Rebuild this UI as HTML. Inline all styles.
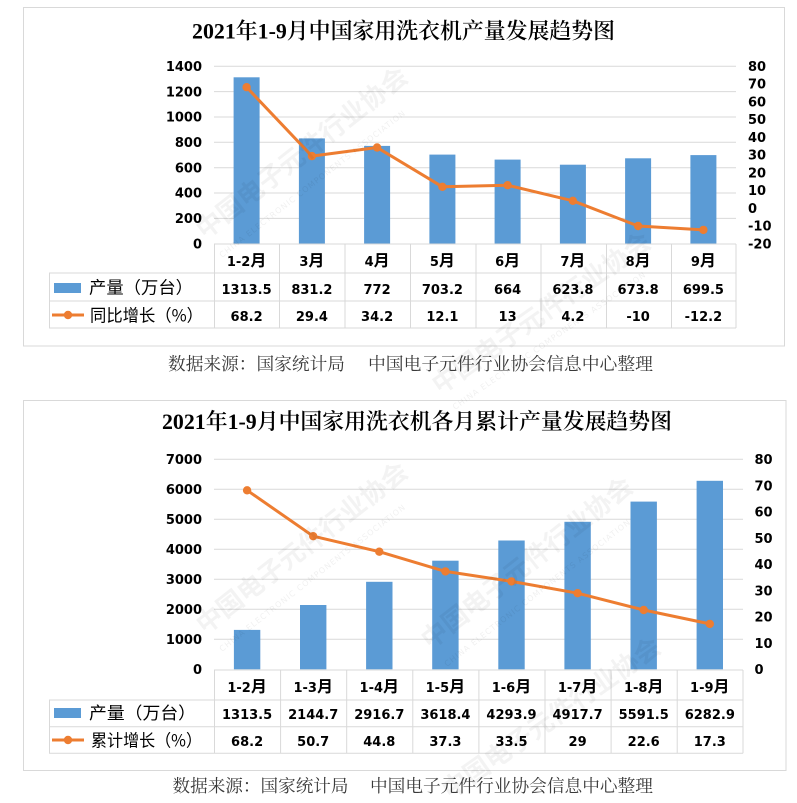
<!DOCTYPE html>
<html><head><meta charset="utf-8"><style>
html,body{margin:0;padding:0;background:#fff;}
svg{display:block;}
.n{font-family:"DejaVu Sans","Liberation Sans",sans-serif;font-weight:bold;font-size:13px;fill:#000;}
.m{font-family:"Noto Sans CJK SC","WenQuanYi Zen Hei",sans-serif;font-weight:bold;font-size:16px;}
.lg{font-family:"Noto Sans CJK SC","WenQuanYi Zen Hei",sans-serif;font-size:17px;fill:#000;}
.tt{font-family:"Liberation Serif","Noto Serif CJK SC",serif;font-size:22px;font-weight:600;fill:#000;}
.src{font-family:"Liberation Serif","Noto Serif CJK SC",serif;font-size:17.5px;fill:#3a3a3a;}
.wm{font-family:"Noto Sans CJK SC",sans-serif;font-weight:bold;font-size:26px;fill:#000;opacity:0.045;}
.wms{font-family:"DejaVu Sans",sans-serif;font-size:8px;fill:#000;opacity:0.06;letter-spacing:1px;}
</style></head><body>
<svg width="797" height="803" viewBox="0 0 797 803" xmlns="http://www.w3.org/2000/svg">
<rect width="797" height="803" fill="#fff"/>

<!-- ============ TOP CHART ============ -->
<rect x="23.5" y="7.5" width="761" height="338.5" fill="#fff" stroke="#d9d9d9" stroke-width="1"/>
<text class="tt" x="192" y="38.5" textLength="423" lengthAdjust="spacingAndGlyphs">2021年1-9月中国家用洗衣机产量发展趋势图</text>

<g stroke="#d9d9d9" stroke-width="1">
<line x1="214" y1="66.3" x2="736" y2="66.3"/>
<line x1="214" y1="91.6" x2="736" y2="91.6"/>
<line x1="214" y1="117.0" x2="736" y2="117.0"/>
<line x1="214" y1="142.3" x2="736" y2="142.3"/>
<line x1="214" y1="167.7" x2="736" y2="167.7"/>
<line x1="214" y1="193.0" x2="736" y2="193.0"/>
<line x1="214" y1="218.4" x2="736" y2="218.4"/>
</g>

<g class="n" text-anchor="end">
<text x="202" y="71">1400</text>
<text x="202" y="96.3">1200</text>
<text x="202" y="121.7">1000</text>
<text x="202" y="147">800</text>
<text x="202" y="172.4">600</text>
<text x="202" y="197.7">400</text>
<text x="202" y="223.1">200</text>
<text x="202" y="248.4">0</text>
</g>
<g class="n">
<text x="748" y="71">80</text>
<text x="748" y="88.7">70</text>
<text x="748" y="106.5">60</text>
<text x="748" y="124.2">50</text>
<text x="748" y="142">40</text>
<text x="748" y="159.7">30</text>
<text x="748" y="177.4">20</text>
<text x="748" y="195.2">10</text>
<text x="748" y="212.9">0</text>
<text x="748" y="230.7">-10</text>
<text x="748" y="248.4">-20</text>
</g>

<g fill="#5b9bd5">
<rect x="233.6" y="77.3" width="26" height="166.4"/>
<rect x="298.9" y="138.4" width="26" height="105.3"/>
<rect x="364.1" y="145.9" width="26" height="97.8"/>
<rect x="429.4" y="154.6" width="26" height="89.1"/>
<rect x="494.6" y="159.6" width="26" height="84.1"/>
<rect x="559.9" y="164.7" width="26" height="79.0"/>
<rect x="625.1" y="158.3" width="26" height="85.4"/>
<rect x="690.4" y="155.1" width="26" height="88.6"/>
</g>

<polyline fill="none" stroke="#ed7d31" stroke-width="3" stroke-linejoin="round" points="246.6,87.2 311.9,156.1 377.1,147.5 442.4,186.8 507.6,185.2 572.9,200.8 638.1,226.0 703.4,229.9"/>
<g fill="#ed7d31">
<circle cx="246.6" cy="87.2" r="4.2"/>
<circle cx="311.9" cy="156.1" r="4.2"/>
<circle cx="377.1" cy="147.5" r="4.2"/>
<circle cx="442.4" cy="186.8" r="4.2"/>
<circle cx="507.6" cy="185.2" r="4.2"/>
<circle cx="572.9" cy="200.8" r="4.2"/>
<circle cx="638.1" cy="226.0" r="4.2"/>
<circle cx="703.4" cy="229.9" r="4.2"/>
</g>

<g stroke="#d9d9d9" stroke-width="1" fill="none">
<line x1="214" y1="244" x2="736" y2="244"/>
<line x1="49" y1="273" x2="736" y2="273"/>
<line x1="49" y1="301" x2="736" y2="301"/>
<line x1="49" y1="328" x2="736" y2="328"/>
<line x1="49.5" y1="273" x2="49.5" y2="328"/>
<line x1="214.5" y1="244" x2="214.5" y2="328"/>
<line x1="279.5" y1="244" x2="279.5" y2="328"/>
<line x1="345" y1="244" x2="345" y2="328"/>
<line x1="410.5" y1="244" x2="410.5" y2="328"/>
<line x1="476" y1="244" x2="476" y2="328"/>
<line x1="541" y1="244" x2="541" y2="328"/>
<line x1="606.5" y1="244" x2="606.5" y2="328"/>
<line x1="671.5" y1="244" x2="671.5" y2="328"/>
<line x1="736" y1="244" x2="736" y2="328"/>
</g>
<g class="n" text-anchor="middle">
<text x="246.6" y="266">1-2<tspan class="m">月</tspan></text>
<text x="311.9" y="266">3<tspan class="m">月</tspan></text>
<text x="377.1" y="266">4<tspan class="m">月</tspan></text>
<text x="442.4" y="266">5<tspan class="m">月</tspan></text>
<text x="507.6" y="266">6<tspan class="m">月</tspan></text>
<text x="572.9" y="266">7<tspan class="m">月</tspan></text>
<text x="638.1" y="266">8<tspan class="m">月</tspan></text>
<text x="703.4" y="266">9<tspan class="m">月</tspan></text>

<text x="246.6" y="294">1313.5</text>
<text x="311.9" y="294">831.2</text>
<text x="377.1" y="294">772</text>
<text x="442.4" y="294">703.2</text>
<text x="507.6" y="294">664</text>
<text x="572.9" y="294">623.8</text>
<text x="638.1" y="294">673.8</text>
<text x="703.4" y="294">699.5</text>

<text x="246.6" y="321">68.2</text>
<text x="311.9" y="321">29.4</text>
<text x="377.1" y="321">34.2</text>
<text x="442.4" y="321">12.1</text>
<text x="507.6" y="321">13</text>
<text x="572.9" y="321">4.2</text>
<text x="638.1" y="321">-10</text>
<text x="703.4" y="321">-12.2</text>
</g>
<rect x="54" y="283" width="27" height="10" fill="#5b9bd5"/>
<text class="lg" x="89" y="293.5" textLength="104" lengthAdjust="spacingAndGlyphs">产量（万台）</text>
<line x1="52" y1="315" x2="84" y2="315" stroke="#ed7d31" stroke-width="3"/>
<circle cx="68" cy="315" r="4.2" fill="#ed7d31"/>
<text class="lg" x="90" y="321.5" textLength="113" lengthAdjust="spacingAndGlyphs">同比增长（%）</text>

<text class="src" x="168" y="370" textLength="177" lengthAdjust="spacingAndGlyphs">数据来源：国家统计局</text>
<text class="src" x="368" y="370" textLength="285" lengthAdjust="spacingAndGlyphs">中国电子元件行业协会信息中心整理</text>

<!-- ============ BOTTOM CHART ============ -->
<rect x="23.5" y="400.5" width="762.5" height="370" fill="#fff" stroke="#d9d9d9" stroke-width="1"/>
<text class="tt" x="162" y="429" textLength="510" lengthAdjust="spacingAndGlyphs">2021年1-9月中国家用洗衣机各月累计产量发展趋势图</text>

<g stroke="#d9d9d9" stroke-width="1">
<line x1="214" y1="459.3" x2="743" y2="459.3"/>
<line x1="214" y1="489.3" x2="743" y2="489.3"/>
<line x1="214" y1="519.3" x2="743" y2="519.3"/>
<line x1="214" y1="549.3" x2="743" y2="549.3"/>
<line x1="214" y1="579.3" x2="743" y2="579.3"/>
<line x1="214" y1="609.3" x2="743" y2="609.3"/>
<line x1="214" y1="639.3" x2="743" y2="639.3"/>
</g>

<g class="n" text-anchor="end">
<text x="202" y="464">7000</text>
<text x="202" y="494">6000</text>
<text x="202" y="524">5000</text>
<text x="202" y="554">4000</text>
<text x="202" y="584">3000</text>
<text x="202" y="614">2000</text>
<text x="202" y="644">1000</text>
<text x="202" y="674">0</text>
</g>
<g class="n">
<text x="754.5" y="464">80</text>
<text x="754.5" y="490.3">70</text>
<text x="754.5" y="516.5">60</text>
<text x="754.5" y="542.8">50</text>
<text x="754.5" y="569">40</text>
<text x="754.5" y="595.3">30</text>
<text x="754.5" y="621.5">20</text>
<text x="754.5" y="647.8">10</text>
<text x="754.5" y="674">0</text>
</g>

<g fill="#5b9bd5">
<rect x="233.9" y="629.9" width="26.4" height="39.4"/>
<rect x="300.0" y="605.0" width="26.4" height="64.3"/>
<rect x="366.1" y="581.8" width="26.4" height="87.5"/>
<rect x="432.2" y="560.7" width="26.4" height="108.6"/>
<rect x="498.3" y="540.5" width="26.4" height="128.8"/>
<rect x="564.4" y="521.8" width="26.4" height="147.5"/>
<rect x="630.5" y="501.6" width="26.4" height="167.7"/>
<rect x="696.6" y="480.8" width="26.4" height="188.5"/>
</g>

<polyline fill="none" stroke="#ed7d31" stroke-width="3" stroke-linejoin="round" points="247.1,490.3 313.2,536.2 379.3,551.7 445.4,571.4 511.5,581.4 577.6,593.2 643.7,610.0 709.8,623.9"/>
<g fill="#ed7d31">
<circle cx="247.1" cy="490.3" r="4.2"/>
<circle cx="313.2" cy="536.2" r="4.2"/>
<circle cx="379.3" cy="551.7" r="4.2"/>
<circle cx="445.4" cy="571.4" r="4.2"/>
<circle cx="511.5" cy="581.4" r="4.2"/>
<circle cx="577.6" cy="593.2" r="4.2"/>
<circle cx="643.7" cy="610.0" r="4.2"/>
<circle cx="709.8" cy="623.9" r="4.2"/>
</g>

<g stroke="#d9d9d9" stroke-width="1" fill="none">
<line x1="214" y1="670" x2="743" y2="670"/>
<line x1="49" y1="700" x2="743" y2="700"/>
<line x1="49" y1="726.7" x2="743" y2="726.7"/>
<line x1="49" y1="753.3" x2="743" y2="753.3"/>
<line x1="49.5" y1="700" x2="49.5" y2="753.3"/>
<line x1="214.5" y1="670" x2="214.5" y2="753.3"/>
<line x1="280.6" y1="670" x2="280.6" y2="753.3"/>
<line x1="346.7" y1="670" x2="346.7" y2="753.3"/>
<line x1="412.8" y1="670" x2="412.8" y2="753.3"/>
<line x1="478.9" y1="670" x2="478.9" y2="753.3"/>
<line x1="545" y1="670" x2="545" y2="753.3"/>
<line x1="611.1" y1="670" x2="611.1" y2="753.3"/>
<line x1="677.2" y1="670" x2="677.2" y2="753.3"/>
<line x1="743" y1="670" x2="743" y2="753.3"/>
</g>
<g class="n" text-anchor="middle">
<text x="247.1" y="692">1-2<tspan class="m">月</tspan></text>
<text x="313.2" y="692">1-3<tspan class="m">月</tspan></text>
<text x="379.3" y="692">1-4<tspan class="m">月</tspan></text>
<text x="445.4" y="692">1-5<tspan class="m">月</tspan></text>
<text x="511.5" y="692">1-6<tspan class="m">月</tspan></text>
<text x="577.6" y="692">1-7<tspan class="m">月</tspan></text>
<text x="643.7" y="692">1-8<tspan class="m">月</tspan></text>
<text x="709.8" y="692">1-9<tspan class="m">月</tspan></text>

<text x="247.1" y="719">1313.5</text>
<text x="313.2" y="719">2144.7</text>
<text x="379.3" y="719">2916.7</text>
<text x="445.4" y="719">3618.4</text>
<text x="511.5" y="719">4293.9</text>
<text x="577.6" y="719">4917.7</text>
<text x="643.7" y="719">5591.5</text>
<text x="709.8" y="719">6282.9</text>

<text x="247.1" y="746">68.2</text>
<text x="313.2" y="746">50.7</text>
<text x="379.3" y="746">44.8</text>
<text x="445.4" y="746">37.3</text>
<text x="511.5" y="746">33.5</text>
<text x="577.6" y="746">29</text>
<text x="643.7" y="746">22.6</text>
<text x="709.8" y="746">17.3</text>
</g>
<rect x="54" y="708" width="27" height="10" fill="#5b9bd5"/>
<text class="lg" x="89" y="719" textLength="107" lengthAdjust="spacingAndGlyphs">产量（万台）</text>
<line x1="52" y1="740" x2="84" y2="740" stroke="#ed7d31" stroke-width="3"/>
<circle cx="68" cy="740" r="4.2" fill="#ed7d31"/>
<text class="lg" x="91" y="746.5" textLength="111" lengthAdjust="spacingAndGlyphs">累计增长（%）</text>

<text class="src" x="172.5" y="792" textLength="176" lengthAdjust="spacingAndGlyphs">数据来源：国家统计局</text>
<text class="src" x="370" y="792" textLength="283" lengthAdjust="spacingAndGlyphs">中国电子元件行业协会信息中心整理</text>

<g>
<text class="wm" transform="translate(205,240) rotate(-38)">中国电子元件行业协会</text>
<text class="wms" transform="translate(222,258) rotate(-38)">CHINA ELECTRONIC COMPONENTS ASSOCIATION</text>
<text class="wm" transform="translate(440,395) rotate(-35)">中国电子元件行业协会</text>
<text class="wms" transform="translate(455,410) rotate(-35)">CHINA ELECTRONIC COMPONENTS ASSOCIATION</text>
<text class="wm" transform="translate(205,635) rotate(-38)">中国电子元件行业协会</text>
<text class="wms" transform="translate(222,652) rotate(-38)">CHINA ELECTRONIC COMPONENTS ASSOCIATION</text>
<text class="wm" transform="translate(430,650) rotate(-38)">中国电子元件行业协会</text>
<text class="wms" transform="translate(447,667) rotate(-38)">CHINA ELECTRONIC COMPONENTS ASSOCIATION</text>
<text class="wm" transform="translate(450,800) rotate(-35)">中国电子元件行业协会</text>
</g>
</svg>
</body></html>
